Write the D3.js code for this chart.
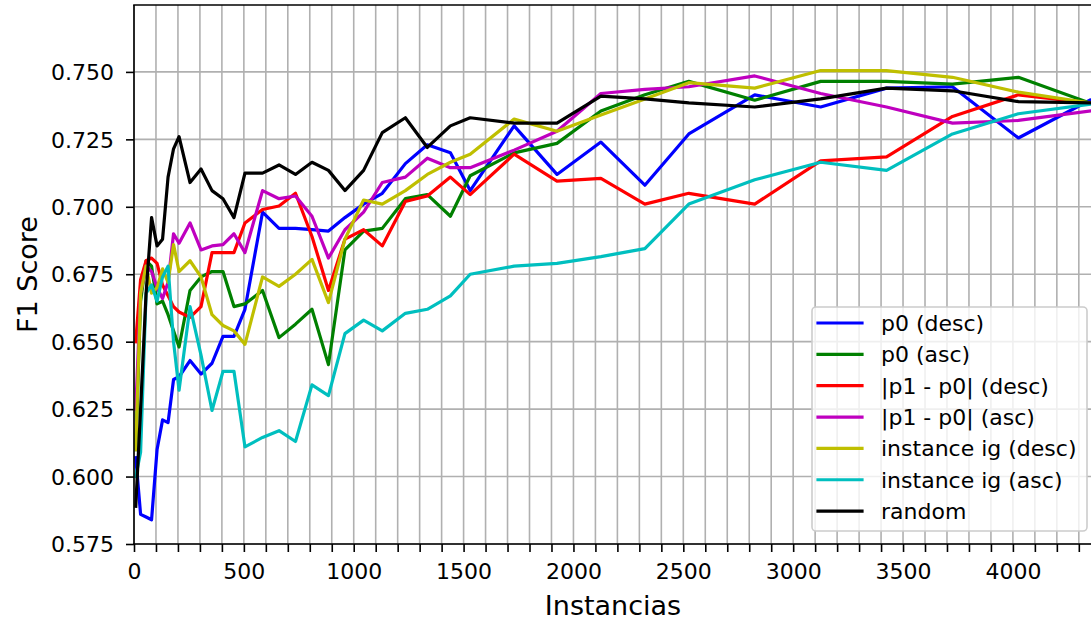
<!DOCTYPE html>
<html>
<head>
<meta charset="utf-8">
<script src="https://cdn.jsdelivr.net/npm/d3@7"></script>
<style>
  html, body { margin: 0; padding: 0; background: #fff; }
  svg { display: block; }
  text { font-family: "DejaVu Sans", sans-serif; fill: #000; }
</style>
</head>
<body>
<svg id="chart" width="1091" height="622"></svg>
<script>
// ---- data ----
const instancias = [8, 30, 55, 80, 105, 130, 155, 180, 205, 255, 305, 355, 405, 455, 505, 585, 660, 735, 810, 885, 960, 1045, 1130, 1235, 1335, 1440, 1530, 1730, 1925, 2125, 2325, 2525, 2825, 3125, 3425, 3725, 4025, 4350];

const p0Desc = [0.607, 0.586, 0.585, 0.584, 0.610, 0.621, 0.620, 0.636, 0.637, 0.643, 0.638, 0.642, 0.652, 0.652, 0.662, 0.698, 0.692, 0.692, 0.6915, 0.691, 0.696, 0.701, 0.705, 0.716, 0.723, 0.720, 0.706, 0.730, 0.712, 0.724, 0.708, 0.727, 0.7415, 0.737, 0.744, 0.7445, 0.7255, 0.7395];
const p0Asc = [0.610, 0.665, 0.680, 0.678, 0.664, 0.665, 0.660, 0.654, 0.648, 0.669, 0.674, 0.676, 0.676, 0.663, 0.664, 0.669, 0.6515, 0.6565, 0.662, 0.6415, 0.684, 0.691, 0.692, 0.703, 0.7045, 0.6965, 0.7115, 0.720, 0.7235, 0.7355, 0.7415, 0.7465, 0.7395, 0.7465, 0.7465, 0.7455, 0.748, 0.7385];
const diffDesc = [0.650, 0.673, 0.680, 0.681, 0.679, 0.671, 0.667, 0.663, 0.661, 0.659, 0.663, 0.683, 0.683, 0.683, 0.694, 0.699, 0.7003, 0.705, 0.689, 0.669, 0.688, 0.6915, 0.6855, 0.702, 0.704, 0.711, 0.7045, 0.7195, 0.7095, 0.7105, 0.701, 0.705, 0.701, 0.717, 0.7185, 0.7335, 0.7415, 0.7385];
const diffAsc = [0.625, 0.668, 0.678, 0.676, 0.670, 0.666, 0.672, 0.690, 0.6865, 0.694, 0.684, 0.6855, 0.686, 0.690, 0.683, 0.706, 0.703, 0.704, 0.6965, 0.681, 0.6915, 0.698, 0.709, 0.711, 0.718, 0.7145, 0.7145, 0.721, 0.728, 0.742, 0.7435, 0.7445, 0.7485, 0.742, 0.737, 0.731, 0.732, 0.7355];
const igDesc = [0.610, 0.668, 0.678, 0.668, 0.670, 0.677, 0.672, 0.686, 0.676, 0.680, 0.674, 0.660, 0.656, 0.654, 0.649, 0.674, 0.6705, 0.675, 0.6805, 0.6645, 0.688, 0.7025, 0.701, 0.706, 0.712, 0.7165, 0.7195, 0.7325, 0.728, 0.734, 0.740, 0.746, 0.744, 0.7505, 0.7505, 0.748, 0.7425, 0.7385];
const igAsc = [0.600, 0.609, 0.668, 0.671, 0.665, 0.674, 0.678, 0.650, 0.632, 0.663, 0.645, 0.6245, 0.639, 0.639, 0.611, 0.6145, 0.617, 0.613, 0.634, 0.630, 0.653, 0.658, 0.654, 0.6605, 0.662, 0.667, 0.675, 0.678, 0.679, 0.6815, 0.6845, 0.701, 0.710, 0.7165, 0.7135, 0.727, 0.7345, 0.738];
const randomF1 = [0.589, 0.625, 0.668, 0.696, 0.6855, 0.688, 0.711, 0.7215, 0.726, 0.709, 0.714, 0.706, 0.703, 0.696, 0.7125, 0.7125, 0.7155, 0.712, 0.7165, 0.7135, 0.706, 0.7135, 0.7275, 0.733, 0.722, 0.730, 0.733, 0.731, 0.731, 0.741, 0.740, 0.7385, 0.737, 0.740, 0.744, 0.743, 0.739, 0.7385];

const seriesNames = ["p0 (desc)", "p0 (asc)", "|p1 - p0| (desc)", "|p1 - p0| (asc)", "instance ig (desc)", "instance ig (asc)", "random"];
const seriesValues = [p0Desc, p0Asc, diffDesc, diffAsc, igDesc, igAsc, randomF1];
const seriesColors = ["#0000ff", "#008000", "#ff0000", "#bf00bf", "#bfbf00", "#00bfbf", "#000000"];

const xTicks = d3.range(0, 4301, 100);
const xTickLabels = [0, 500, 1000, 1500, 2000, 2500, 3000, 3500, 4000];
const yTicks = [0.575, 0.600, 0.625, 0.650, 0.675, 0.700, 0.725, 0.750];

// ---- layout ----
const svg = d3.select("#chart");
const L = 134, T = 5, R = 1092, B = 544;
const W = R - L, H = B - T;

const x = d3.scaleLinear().domain([0, 4360]).range([L, R]);
const y = d3.scaleLinear().domain([0.575, 0.7748]).range([B, T]);

const gridColor = "#b0b0b0";
const FS = "22px";

// grid
const grid = svg.append("g");
grid.selectAll("line.vg").data(xTicks).enter().append("line")
  .attr("x1", d => x(d)).attr("x2", d => x(d))
  .attr("y1", T).attr("y2", B)
  .attr("stroke", gridColor).attr("stroke-width", 1.6);
grid.selectAll("line.hg").data(yTicks).enter().append("line")
  .attr("x1", L).attr("x2", R)
  .attr("y1", d => y(d)).attr("y2", d => y(d))
  .attr("stroke", gridColor).attr("stroke-width", 1.6);

// clip
svg.append("clipPath").attr("id", "clip").append("rect")
  .attr("x", L).attr("y", T).attr("width", W).attr("height", H);

// lines
const line = d3.line().x(d => x(d[0])).y(d => y(d[1]));
const linesG = svg.append("g").attr("clip-path", "url(#clip)");
seriesValues.forEach((vals, i) => {
  const pts = instancias.map((xv, j) => [xv, vals[j]]);
  linesG.append("path").datum(pts)
    .attr("d", line)
    .attr("fill", "none")
    .attr("stroke", seriesColors[i])
    .attr("stroke-width", 3.2)
    .attr("stroke-linejoin", "round")
    .attr("stroke-linecap", "square");
});

// axes
const xAxis = d3.axisBottom(x).tickValues(xTicks)
  .tickFormat(d => xTickLabels.includes(d) ? String(d) : "")
  .tickSize(8).tickPadding(11).tickSizeOuter(0);
const gx = svg.append("g").attr("transform", `translate(0,${B})`).call(xAxis);
gx.select(".domain").remove();
gx.selectAll(".tick line").attr("stroke", "#000").attr("stroke-width", 1.6);
gx.selectAll(".tick text").attr("font-size", FS).attr("font-family", "DejaVu Sans").attr("fill", "#000").attr("dy", "0.71em");

const yAxis = d3.axisLeft(y).tickValues(yTicks)
  .tickFormat(d3.format(".3f"))
  .tickSize(8).tickPadding(12).tickSizeOuter(0);
const gy = svg.append("g").attr("transform", `translate(${L},0)`).call(yAxis);
gy.select(".domain").remove();
gy.selectAll(".tick line").attr("stroke", "#000").attr("stroke-width", 1.6);
gy.selectAll(".tick text").attr("font-size", FS).attr("font-family", "DejaVu Sans").attr("fill", "#000").attr("dy", "0.35em");

// spines
svg.append("line").attr("x1", L).attr("x2", L).attr("y1", T).attr("y2", B).attr("stroke", "#000").attr("stroke-width", 1.6);
svg.append("line").attr("x1", L - 0.8).attr("x2", R).attr("y1", B).attr("y2", B).attr("stroke", "#000").attr("stroke-width", 1.6);
svg.append("line").attr("x1", L - 0.8).attr("x2", R).attr("y1", T).attr("y2", T).attr("stroke", "#000").attr("stroke-width", 1.6);
svg.append("line").attr("x1", R).attr("x2", R).attr("y1", T).attr("y2", B).attr("stroke", "#000").attr("stroke-width", 1.6);

// axis labels
svg.append("text").attr("x", (L + R) / 2).attr("y", 615)
  .attr("text-anchor", "middle").attr("font-size", "27px").text("Instancias");
svg.append("text").attr("transform", `translate(37,${(T + B) / 2}) rotate(-90)`)
  .attr("text-anchor", "middle").attr("font-size", "27px").text("F1 Score");

// legend
const lg = svg.append("g");
lg.append("rect").attr("x", 812).attr("y", 307).attr("width", 275).attr("height", 224)
  .attr("rx", 4).attr("ry", 4)
  .attr("fill", "#ffffff").attr("fill-opacity", 0.8)
  .attr("stroke", "#cccccc").attr("stroke-width", 1.6);
seriesNames.forEach((name, i) => {
  const cy = 323 + i * 31.35;
  lg.append("line").attr("x1", 818).attr("x2", 862).attr("y1", cy).attr("y2", cy)
    .attr("stroke", seriesColors[i]).attr("stroke-width", 3.2).attr("stroke-linecap", "square");
  lg.append("text").attr("x", 881).attr("y", cy + 8).attr("font-size", FS).text(name);
});
</script>
</body>
</html>
